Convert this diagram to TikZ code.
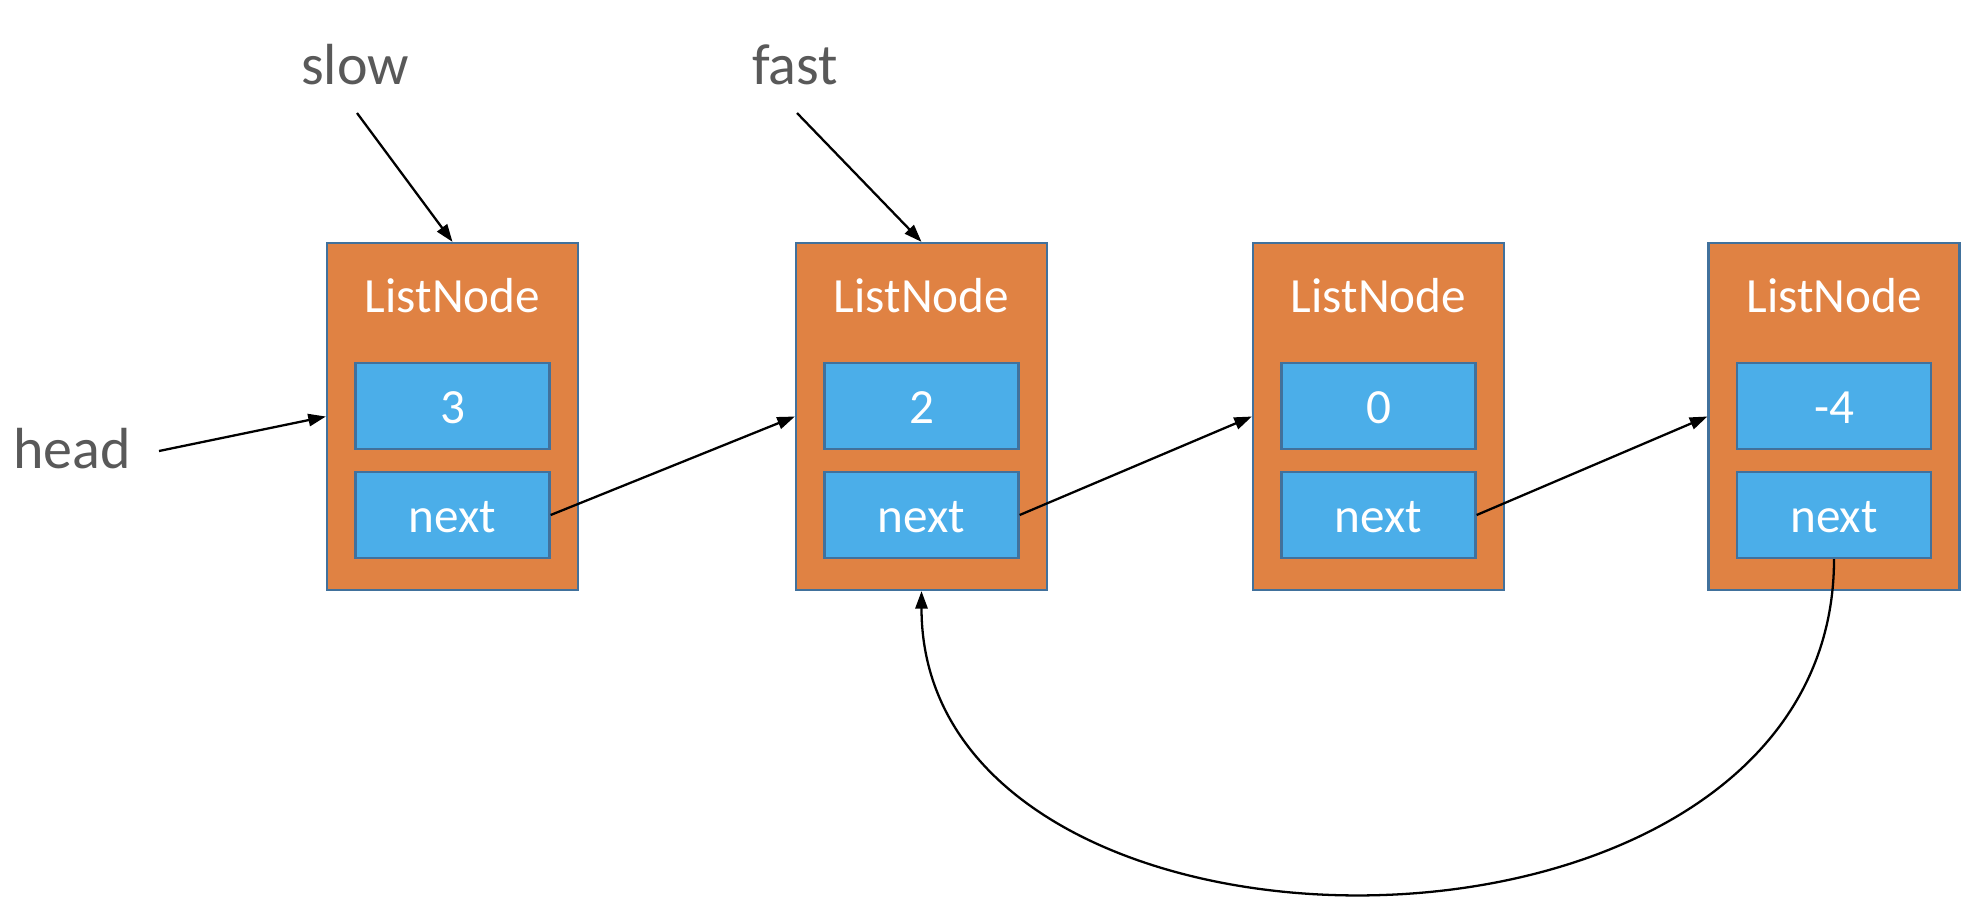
\documentclass[tikz,border=0pt]{standalone}
\usepackage{fontspec}
\setmainfont{Carlito}
\usetikzlibrary{arrows.meta}
\definecolor{nodeorange}{HTML}{E08243}
\definecolor{edgeblue}{HTML}{41719C}
\definecolor{fieldblue}{HTML}{4BAEE9}
\definecolor{labelgray}{HTML}{595959}
\begin{document}
\begin{tikzpicture}[x=0.02cm,y=-0.02cm,
  listnode/.style={draw=edgeblue,line width=1.3pt,fill=nodeorange,
    minimum width=251*0.02cm,minimum height=347*0.02cm,inner sep=0pt},
  field/.style={draw=edgeblue,line width=1.3pt,fill=fieldblue,
    minimum width=194*0.02cm,minimum height=86*0.02cm,inner sep=0pt},
  celltext/.style={text=white,font=\fontsize{28}{34}\selectfont,inner sep=0pt},
  ptrlabel/.style={text=labelgray,font=\fontsize{33}{40}\selectfont,inner sep=0pt},
  arr/.style={line width=1.3pt,-{Triangle[length=10pt,width=7pt]}}]
  \useasboundingbox[fill=white] (0,0) rectangle (1966,904);

  % list cells: outer box, title, value field, next field
  \foreach \i/\cx/\v in {1/452.5/3, 2/921.5/2, 3/1378.5/0, 4/1834/-4}{
    \node[listnode] (n\i) at (\cx,416.5) {};
    \node[celltext] (t\i) at (\cx,296) {ListNode};
    \node[field] (v\i) at (\cx,406) {};
    \node[field] (x\i) at (\cx,515) {};
    \node[celltext] (vt\i) at (\cx,408) {\v};
    \node[celltext] (xt\i) at (\cx,517) {next};
  }

  % pointer labels
  \node[ptrlabel] (slow) at (355,65) {slow};
  \node[ptrlabel] (fast) at (795,65) {fast};
  \node[ptrlabel] (head) at (72,449) {head};
  \coordinate (slowtail) at (357,113);
  \coordinate (fasttail) at (797,113);
  \coordinate (headtail) at (159,451);

  \draw[arr] (slowtail) -- (n1.north);
  \draw[arr] (fasttail) -- (n2.north);
  \draw[arr] (headtail) -- (n1.west);

  % next links
  \draw[arr] (x1.east) -- (n2.west);
  \draw[arr] (x2.east) -- (n3.west);
  \draw[arr] (x3.east) -- (n4.west);

  % cycle back from the last cell to the second
  \draw[arr] (x4.south) .. controls (1834,999) and (921.5,999) .. (n2.south);
\end{tikzpicture}
\end{document}
